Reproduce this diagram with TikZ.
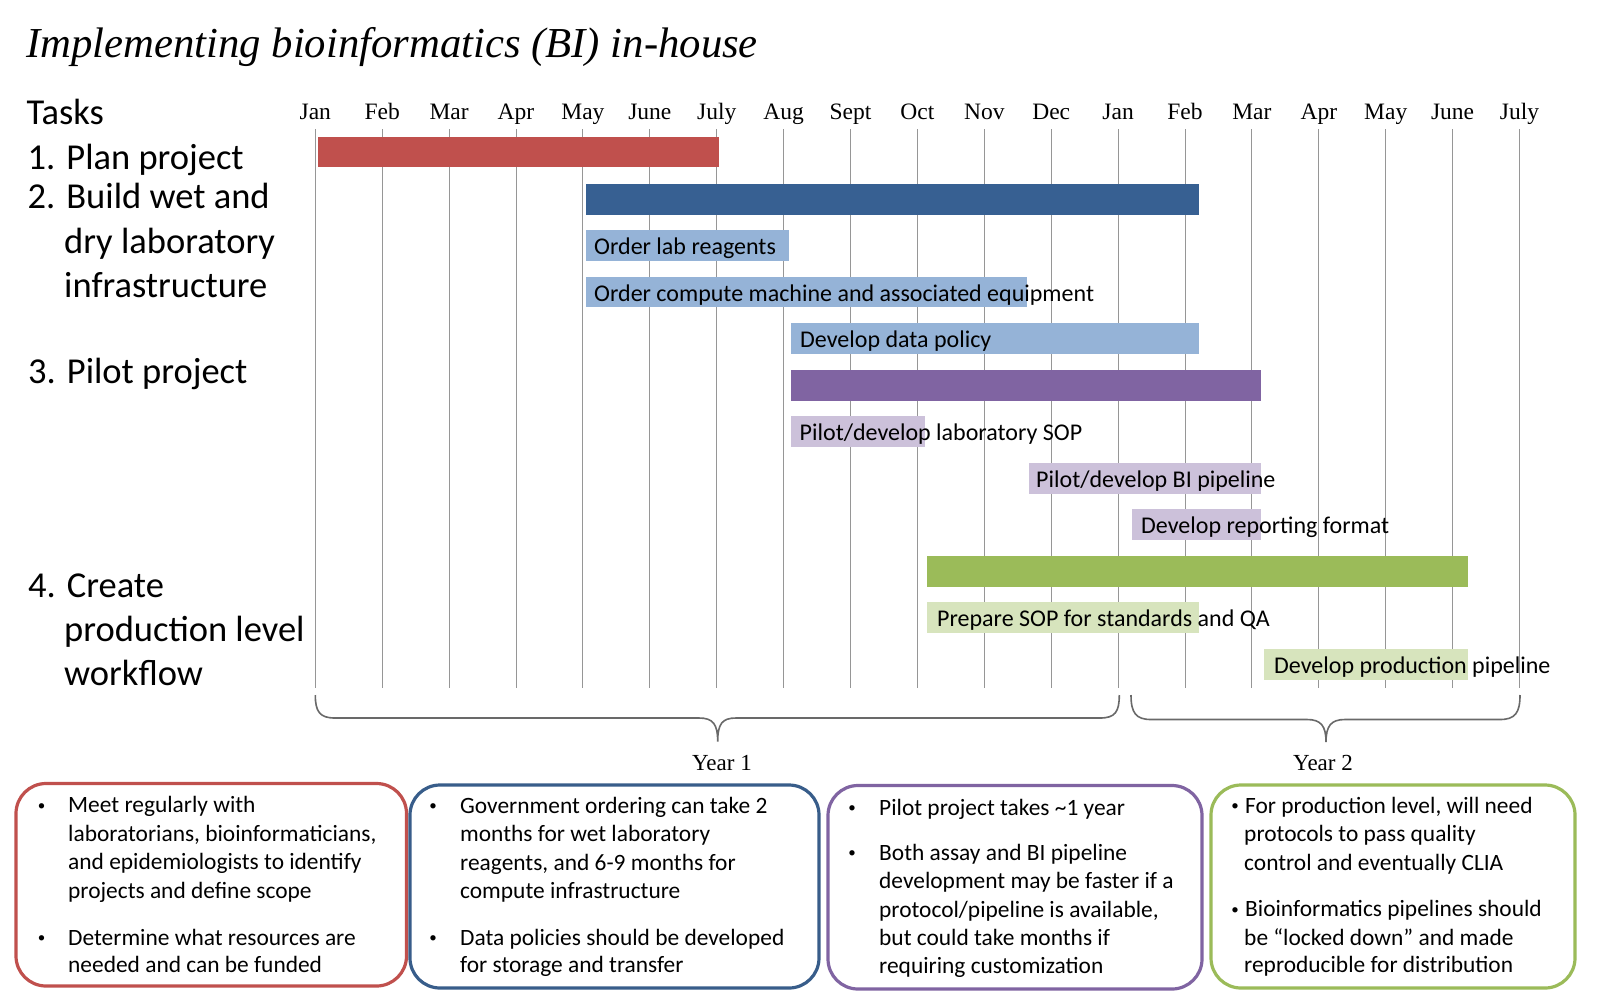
\documentclass[tikz,border=0pt]{standalone}
\usepackage{fontspec}
\setmainfont{Carlito}
\newfontfamily\seriffont{Liberation Serif}
\definecolor{cRed}{HTML}{C0504D}
\definecolor{cDBlue}{HTML}{376092}
\definecolor{cLBlue}{HTML}{95B3D7}
\definecolor{cPurple}{HTML}{8064A2}
\definecolor{cLPurple}{HTML}{CCC1DA}
\definecolor{cGreen}{HTML}{9BBB59}
\definecolor{cLGreen}{HTML}{D7E4BD}
\definecolor{cBoxBlue}{HTML}{385D8A}
\definecolor{cGrid}{RGB}{150,150,150}
\definecolor{cBrace}{RGB}{105,105,105}
\tikzset{
  gridline/.style={draw=cGrid, line width=1pt},
  monthlabel/.style={anchor=base, inner sep=0pt, font=\seriffont\fontsize{23.5}{28}\selectfont},
  tasklabel/.style={anchor=base west, inner sep=0pt, font=\fontsize{36.5}{44}\selectfont},
  barlabel/.style={anchor=base west, inner sep=0pt, font=\fontsize{24}{29}\selectfont},
  boxtext/.style={anchor=base west, inner sep=0pt, font=\fontsize{23.4}{28.5}\selectfont},
  bulletmark/.style={anchor=base, inner sep=0pt, font=\fontsize{15}{18}\selectfont},
  notebox/.style={line width=3.2pt, rounded corners=30pt},
  bracestyle/.style={draw=cBrace, line width=1.6pt},
  yearlabel/.style={anchor=base, inner sep=0pt, font=\seriffont\fontsize{23}{28}\selectfont}
}
\begin{document}
\begin{tikzpicture}[x=1pt,y=-1pt]
\useasboundingbox[fill=white] (0,0) rectangle (1601,996);

% title
\node[anchor=base west, inner sep=0pt, font=\seriffont\itshape\fontsize{42.7}{50}\selectfont] (title) at (26,57) {Implementing bioinformatics (BI) in-house};

% grid and months
\foreach \m [count=\k from 0] in {Jan,Feb,Mar,Apr,May,June,July,Aug,Sept,Oct,Nov,Dec,Jan,Feb,Mar,Apr,May,June,July} {
  \pgfmathsetmacro\xx{315.3+66.9*\k}
  \draw[gridline] (\xx,129) -- (\xx,688);
  \node[monthlabel] (m\k) at (\xx,119) {\m};
}

% task labels
\node[tasklabel] (tasks) at (26.5,124) {Tasks};
\node[tasklabel] (task1) at (27.5,169.5) {1. Plan project};
\node[tasklabel] (task2a) at (27.5,208.5) {2. Build wet and};
\node[tasklabel] (task2b) at (64,253) {dry laboratory};
\node[tasklabel] (task2c) at (64,297.5) {infrastructure};
\node[tasklabel] (task3) at (28,383.5) {3. Pilot project};
\node[tasklabel] (task4a) at (28,597) {4. Create};
\node[tasklabel] (task4b) at (64,641.5) {production level};
\node[tasklabel] (task4c) at (64,685.5) {workflow};

% bars
\fill[cRed] (318,137) rectangle (719,167);
\fill[cDBlue] (586,184) rectangle (1199,214.7);
\fill[cLBlue] (586,230) rectangle (788.8,260.7);
\fill[cLBlue] (586,276.7) rectangle (1027,307.3);
\fill[cLBlue] (791.4,323) rectangle (1199,353.7);
\fill[cPurple] (791.4,370) rectangle (1261,400.7);
\fill[cLPurple] (791.4,416) rectangle (925.3,446.7);
\fill[cLPurple] (1029,463) rectangle (1261,493.7);
\fill[cLPurple] (1131.7,509) rectangle (1261,539.7);
\fill[cGreen] (927,556) rectangle (1468,586.7);
\fill[cLGreen] (927,602) rectangle (1198.5,632.7);
\fill[cLGreen] (1264,649) rectangle (1468,679.7);

% bar labels
\node[barlabel] (l1) at (594,254.3) {Order lab reagents};
\node[barlabel] (l2) at (594,301) {Order compute machine and associated equipment};
\node[barlabel] (l3) at (800,347.3) {Develop data policy};
\node[barlabel] (l4) at (799.5,440.3) {Pilot/develop laboratory SOP};
\node[barlabel] (l5) at (1036,487.3) {Pilot/develop BI pipeline};
\node[barlabel] (l6) at (1141,533.3) {Develop reporting format};
\node[barlabel] (l7) at (937,626.3) {Prepare SOP for standards and QA};
\node[barlabel] (l8) at (1274,673.3) {Develop production pipeline};

% braces
\draw[bracestyle] (315.3,695) .. controls (315.3,712) and (320,718) .. (335,718)
  -- (699,718) .. controls (713,718) and (717.7,724) .. (717.7,741.7)
  .. controls (717.7,724) and (722,718) .. (736,718)
  -- (1100,718) .. controls (1115,718) and (1119.3,712) .. (1119.3,695);
\draw[bracestyle] (1131,695) .. controls (1131,713) and (1136,719.5) .. (1151,719.5)
  -- (1307,719.5) .. controls (1321,719.5) and (1326,726) .. (1326,742)
  .. controls (1326,726) and (1331,719.5) .. (1345,719.5)
  -- (1500,719.5) .. controls (1515,719.5) and (1520,713) .. (1520,695);
\node[yearlabel] (y1) at (722,770) {Year 1};
\node[yearlabel] (y2) at (1323,770) {Year 2};

% note boxes
\draw[notebox, draw=cRed] (16,783.5) rectangle (406.5,986);
\draw[notebox, draw=cBoxBlue] (410,785) rectangle (819,988);
\draw[notebox, draw=cPurple] (828,785.5) rectangle (1202,989);
\draw[notebox, draw=cGreen] (1211,785) rectangle (1575,988);

% box 1
\node[bulletmark] (b1p1) at (41.5,810.2) {\textbullet};
\node[boxtext] (b1a) at (68,812.7) {Meet regularly with};
\node[boxtext] (b1b) at (68,841) {laboratorians, bioinformaticians,};
\node[boxtext] (b1c) at (68,869.5) {and epidemiologists to identify};
\node[boxtext] (b1d) at (68,898) {projects and define scope};
\node[bulletmark] (b1p2) at (41.5,942.5) {\textbullet};
\node[boxtext] (b1e) at (68,945) {Determine what resources are};
\node[boxtext] (b1f) at (68,972) {needed and can be funded};

% box 2
\node[bulletmark] (b2p1) at (433,810.5) {\textbullet};
\node[boxtext] (b2a) at (460,813) {Government ordering can take 2};
\node[boxtext] (b2b) at (460,841.5) {months for wet laboratory};
\node[boxtext] (b2c) at (460,870) {reagents, and 6-9 months for};
\node[boxtext] (b2d) at (460,898.5) {compute infrastructure};
\node[bulletmark] (b2p2) at (433,942.5) {\textbullet};
\node[boxtext] (b2e) at (460,945) {Data policies should be developed};
\node[boxtext] (b2f) at (460,972) {for storage and transfer};

% box 3
\node[bulletmark] (b3p1) at (852,812.5) {\textbullet};
\node[boxtext] (b3a) at (879,815) {Pilot project takes \textasciitilde1 year};
\node[bulletmark] (b3p2) at (852,857.5) {\textbullet};
\node[boxtext] (b3b) at (879,860) {Both assay and BI pipeline};
\node[boxtext] (b3c) at (879,888.5) {development may be faster if a};
\node[boxtext] (b3d) at (879,917) {protocol/pipeline is available,};
\node[boxtext] (b3e) at (879,945) {but could take months if};
\node[boxtext] (b3f) at (879,973.5) {requiring customization};

% box 4
\node[bulletmark] (b4p1) at (1235,810.5) {\textbullet};
\node[boxtext] (b4a) at (1245,813) {For production level, will need};
\node[boxtext] (b4b) at (1244,841.5) {protocols to pass quality};
\node[boxtext] (b4c) at (1244,870) {control and eventually CLIA};
\node[bulletmark] (b4p2) at (1235,914) {\textbullet};
\node[boxtext] (b4d) at (1245,916.5) {Bioinformatics pipelines should};
\node[boxtext] (b4e) at (1244,945) {be “locked down” and made};
\node[boxtext] (b4f) at (1244,972) {reproducible for distribution};
\end{tikzpicture}
\end{document}
